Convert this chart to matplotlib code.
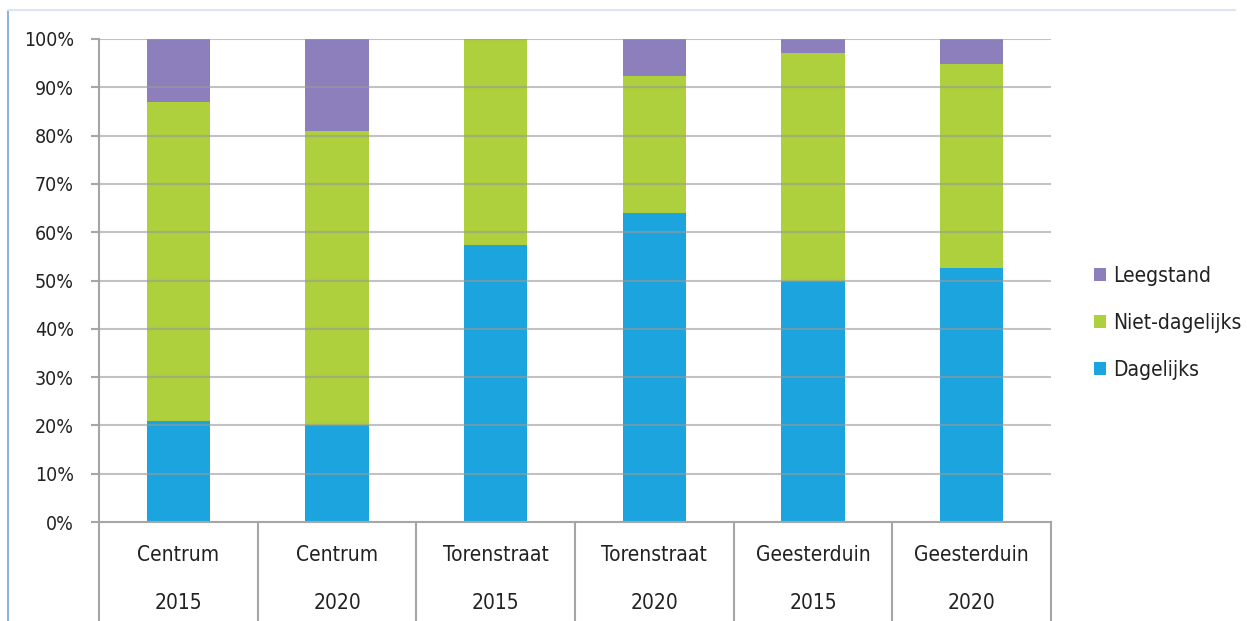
import numpy as np
import matplotlib
matplotlib.use("Agg")
import matplotlib.pyplot as plt
from matplotlib.lines import Line2D
import matplotlib.transforms as mtransforms

plt.rcParams['font.family'] = ['DejaVu Sans']
plt.rcParams['font.stretch'] = 'condensed'

# data (percent)
locaties = ['Centrum', 'Centrum', 'Torenstraat', 'Torenstraat', 'Geesterduin', 'Geesterduin']
jaren = ['2015', '2020', '2015', '2020', '2015', '2020']
dagelijks = [21, 20, 57.3, 64, 50, 52.6]
niet_dagelijks = [66, 61, 42.7, 28.3, 47, 42.2]
leegstand = [13, 19, 0, 7.7, 3, 5.2]

kleur_dag = '#1BA4DD'
kleur_niet = '#ADD03C'
kleur_leeg = '#8C7FBC'

fig = plt.figure(figsize=(12.47, 6.21), dpi=100)
ax = fig.add_axes([0.0794, 0.1594, 0.7634, 0.7778])

x = np.arange(len(locaties))
w = 0.40
dag = np.array(dagelijks) / 100
niet = np.array(niet_dagelijks) / 100
leeg = np.array(leegstand) / 100

b1 = ax.bar(x, dag, w, color=kleur_dag, label='Dagelijks', zorder=2)
b2 = ax.bar(x, niet, w, bottom=dag, color=kleur_niet, label='Niet-dagelijks', zorder=2)
b3 = ax.bar(x, leeg, w, bottom=dag + niet, color=kleur_leeg, label='Leegstand', zorder=2)

ax.set_xlim(-0.5, len(locaties) - 0.5)
ax.set_ylim(0, 1)
ax.set_yticks(np.arange(0, 1.01, 0.1))
ax.set_yticklabels([f'{int(round(v * 100))}%' for v in np.arange(0, 1.01, 0.1)])
ax.tick_params(axis='y', length=6, width=1.5, color='#A6A6A6', labelsize=14, pad=12, labelcolor='#222222')
ax.set_xticks([])

for yy in np.arange(0.1, 1.01, 0.1):
    ax.axhline(yy, color='#9A9A9A', lw=1.5, alpha=0.6, zorder=3)

for s in ['top', 'right']:
    ax.spines[s].set_visible(False)
ax.spines['left'].set_color('#A6A6A6')
ax.spines['left'].set_linewidth(1.5)
ax.spines['bottom'].set_color('#A6A6A6')
ax.spines['bottom'].set_linewidth(1.5)

# multi-level x labels with separators
trans = mtransforms.blended_transform_factory(ax.transData, ax.transAxes)
for xs in np.arange(-0.5, len(locaties), 1.0):
    ax.plot([xs, xs], [0, -0.21], color='#A6A6A6', lw=1.5, transform=trans, clip_on=False)
for i in range(len(locaties)):
    ax.text(x[i], -0.068, locaties[i], transform=trans, ha='center', va='center', fontsize=15, color='#222222')
    ax.text(x[i], -0.167, jaren[i], transform=trans, ha='center', va='center', fontsize=15, color='#222222')

handles = [b3, b2, b1]
leg = fig.legend(handles, [h.get_label() for h in handles], loc='center left',
                 bbox_to_anchor=(0.877, 0.48), frameon=False, fontsize=15,
                 handlelength=0.6, handleheight=0.6, handletextpad=0.35, labelspacing=1.3,
                 borderaxespad=0, borderpad=0)
for t in leg.get_texts():
    t.set_color('#222222')

# outer frame
fig.add_artist(Line2D([8 / 1247, 8 / 1247], [0, 1 - 10 / 621], color='#8DB3E2', lw=1.5))
fig.add_artist(Line2D([8 / 1247, 0.99], [1 - 10 / 621, 1 - 10 / 621], color='#DCE6F2', lw=1.5))

fig.savefig('out.png', dpi=100)
